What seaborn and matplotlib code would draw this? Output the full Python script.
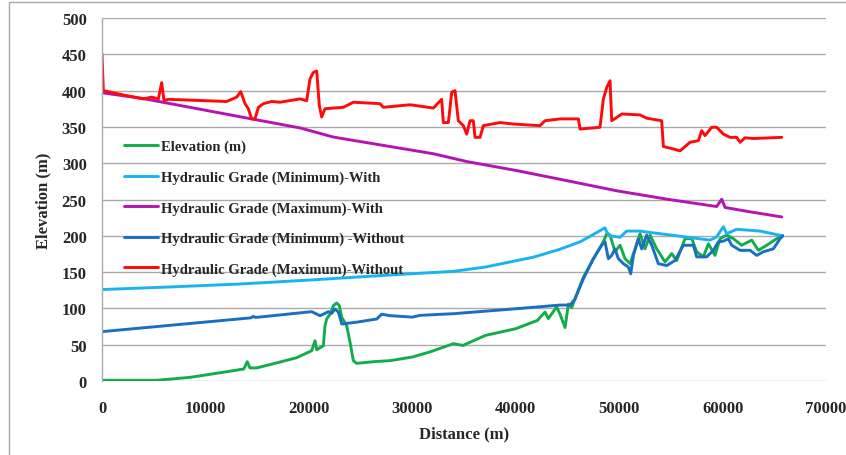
import numpy as np
import pandas as pd
import matplotlib
matplotlib.use("Agg")
import matplotlib.pyplot as plt
from matplotlib.patches import Rectangle
import seaborn as sns

# ---------------- data ----------------
elev_x = [0, 2000, 5300, 8500, 11700, 13700, 14050, 14300, 14950, 16900, 18800,
          20270, 20600, 20760, 21400, 21560, 21720, 22050, 22370, 22690, 22950,
          23170, 23660, 23980, 24300, 24620, 26240, 27850, 30000, 31700, 33970,
          34900, 37070, 40000, 42100, 42830, 43150, 43960, 44284, 44770, 45090,
          45410, 45730, 46540, 47500, 48470, 48800, 49120, 49600, 50090, 50570,
          51050, 51540, 52020, 52500, 52990, 53630, 54440, 55080, 55570, 56370,
          57020, 57500, 58140, 58630, 59270, 59750, 60400, 61040, 61850, 62820,
          63460, 64270, 65230, 65810]
elev_y = [1, 1, 1, 5, 12, 16.5, 26.6, 18, 18, 25, 32,
          41.7, 55.5, 43, 48.6, 76, 85.4, 92, 103.7, 107.5, 103.7,
          88, 76, 53.5, 28, 24.3, 26.6, 28, 33, 40, 51.4,
          49, 62.8, 72, 83.5, 95, 86, 102, 92, 73.6, 106,
          101, 113, 143, 168, 191.7, 203, 201, 178, 187, 168.5,
          161.6, 182, 203, 182, 201, 182, 164, 175.5, 166, 196,
          196, 178, 171, 189, 173, 196, 201, 196, 187, 194,
          180, 187, 196, 200]

minw_x = [0, 6500, 13340, 20000, 27850, 33970, 37070, 41720, 44284, 46220,
          47510, 48635, 48800, 49120, 50090, 50730, 52020, 52990, 55570,
          57180, 58790, 59430, 60080, 60400, 61370, 63620, 65810]
minw_y = [126, 129.5, 133.6, 139, 146, 151, 157, 170.6, 181.5, 191.7,
          201.9, 211, 205.5, 200, 198, 206.5, 206.5, 204.6, 200,
          197, 194, 198.6, 212.5, 203, 209, 206.5, 200]

maxw_x = [0, 4000, 14470, 19145, 22370, 27200, 32040, 35260, 40100, 44930,
          49760, 54600, 59430, 59920, 60240, 62660, 65720]
maxw_y = [397, 389, 361, 348.6, 336, 324.5, 313, 302.3, 289.8, 276,
          262, 250.5, 240.3, 250.5, 239, 233, 226]

minwo_x = [0, 14400, 14630, 14850, 20270, 21080, 21400, 21890, 22200, 22530,
           22850, 23180, 24620, 26560, 27040, 27850, 30000, 30750, 33970,
           40000, 44284, 45250, 45730, 46540, 47510, 48310, 48635, 48960,
           49280, 49600, 49920, 50410, 50890, 51120, 51380, 51860, 52180,
           52660, 53150, 53790, 54600, 55400, 56210, 57180, 57500, 58470,
           59110, 59590, 60080, 60560, 60880, 61690, 62660, 63300, 63940,
           64910, 65560, 65810]
minwo_y = [68, 87, 89, 87.5, 95.5, 90, 92, 95.5, 93, 99.2,
           95, 78.5, 81, 85.4, 92, 90, 88, 90.4, 92.7,
           99.5, 104.6, 104.6, 113, 140.7, 168.5, 187, 191.7, 168.5,
           173, 182, 168.5, 161.6, 157, 147.7, 173, 196, 182,
           201, 187, 161.6, 159, 166, 187, 187, 171, 171,
           180, 191.7, 192.6, 196, 187, 180, 180, 173, 178,
           182, 196, 200]

maxwo_x = [0, 130, 2060, 4000, 4800, 5450, 5770, 6000, 6410, 12050, 13020,
           13410, 13830, 14150, 14470, 14790, 15120, 15600, 16400, 17210,
           19150, 19790, 20110, 20430, 20760, 21010, 21240, 21560, 23340,
           24300, 26880, 27200, 29780, 32040, 32840, 33000, 33490, 33810,
           34130, 34450, 34940, 35260, 35580, 35900, 36070, 36550, 36870,
           38480, 39770, 42350, 42830, 44280, 46060, 46220, 48150, 48470,
           48800, 49120, 49280, 49760, 50250, 52020, 52660, 54110, 54280,
           55240, 55890, 56850, 57660, 57980, 58300, 58950, 59430, 60080,
           60720, 61370, 61690, 62170, 62980, 65720]
maxwo_y = [450, 400, 394, 388.6, 391, 388.6, 411, 386, 388, 385, 391,
           398.6, 382, 375, 361, 361, 377, 382, 385, 384,
           388.6, 386, 416, 425, 427, 379.5, 363.6, 375, 377,
           384, 382, 377, 380.5, 376, 388, 356, 356, 397.6,
           400, 358.5, 351.7, 340, 358.5, 358.5, 335.6, 335.6, 351.7,
           356, 354, 351.7, 358.5, 361, 361, 347, 349.5, 388,
           404.5, 413.6, 358.5, 363, 367.8, 366.5, 362, 358.5, 323,
           319.6, 317, 328.8, 331, 344.8, 338, 349.5, 349.5, 340,
           335.6, 335.6, 328.8, 335, 334, 335.6]

series_names = ["Elevation (m)",
                "Hydraulic Grade (Minimum)-With",
                "Hydraulic Grade (Maximum)-With",
                "Hydraulic Grade (Minimum) -Without",
                "Hydraulic Grade (Maximum)-Without"]
series_colors = ["#12ad4a", "#19b4ee", "#b414b4", "#1a6fc2", "#ff0a0a"]

x_ticks = [0, 10000, 20000, 30000, 40000, 50000, 60000, 70000]
y_ticks = [0, 50, 100, 150, 200, 250, 300, 350, 400, 450, 500]

frames = []
for name, xs, ys in zip(series_names,
                        [elev_x, minw_x, maxw_x, minwo_x, maxwo_x],
                        [elev_y, minw_y, maxw_y, minwo_y, maxwo_y]):
    frames.append(pd.DataFrame({"Distance": xs, "Value": ys, "Series": name}))
df = pd.concat(frames, ignore_index=True)

# ---------------- style ----------------
sns.set_style("white")
plt.rcParams["font.family"] = ["Liberation Serif", "DejaVu Serif"]
plt.rcParams["font.weight"] = "bold"

fig = plt.figure(figsize=(8.46, 4.56), dpi=100)
ax = fig.add_axes([102 / 846, 1 - 382 / 456, 724 / 846, 363 / 456])

sns.lineplot(data=df, x="Distance", y="Value", hue="Series",
             hue_order=series_names, palette=series_colors,
             estimator=None, sort=False, linewidth=2.1, ax=ax)

ax.set_xlim(0, 70000)
ax.set_ylim(0, 500)
ax.set_xticks(x_ticks)
ax.set_yticks(y_ticks)
ax.set_xticklabels([str(t) for t in x_ticks], fontsize=12, fontweight="bold")
ax.set_yticklabels([str(t) for t in y_ticks], fontsize=12, fontweight="bold")
ax.tick_params(axis="both", length=0)
ax.tick_params(axis="x", pad=14)
ax.tick_params(axis="y", pad=11)
ax.yaxis.grid(True, color="#ababab", linewidth=1.0)
ax.xaxis.grid(False)
ax.set_axisbelow(True)
for s in ["top", "right", "bottom"]:
    ax.spines[s].set_visible(False)
ax.spines["left"].set_color("#ababab")
ax.spines["left"].set_linewidth(1.0)

ax.set_xlabel("Distance (m)", fontsize=12, fontweight="bold", labelpad=6.5)
ax.set_ylabel("Elevation (m)", fontsize=12, fontweight="bold", labelpad=7.5)

handles, labels = ax.get_legend_handles_labels()
leg = ax.legend(handles, labels, loc="upper left",
                bbox_to_anchor=(124 / 846, 1 - 141 / 456),
                bbox_transform=fig.transFigure, frameon=False,
                borderpad=0, borderaxespad=0, handlelength=2.3,
                handletextpad=0.25, labelspacing=1.17,
                prop={"family": "Liberation Serif", "weight": "bold", "size": 10.5})
for line in leg.get_lines():
    line.set_linewidth(2.1)

# outer chart border (left and top visible)
fig.patches.append(Rectangle((9 / 846, -0.1), 1.2, 1.1 - 3 / 456,
                             transform=fig.transFigure, fill=False,
                             edgecolor="#a8a8a8", linewidth=1.0))

fig.savefig("out.png", dpi=100)
